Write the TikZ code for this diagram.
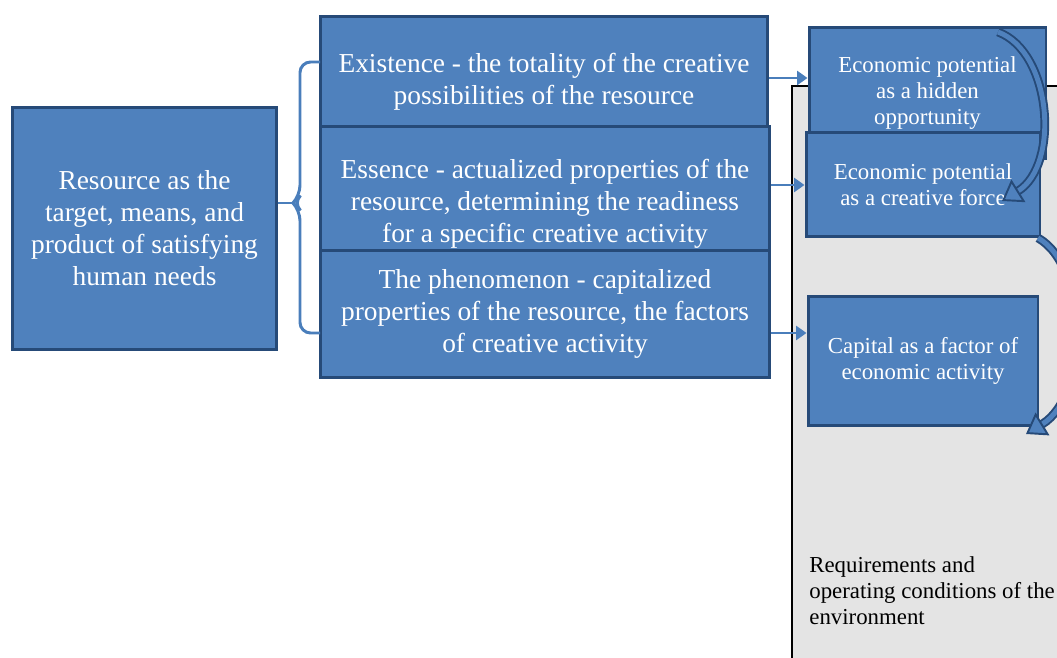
\documentclass[tikz,border=0pt]{standalone}
\usepackage{fontspec}
\setmainfont{Liberation Serif}
\usetikzlibrary{arrows.meta}

\definecolor{boxblue}{HTML}{4F81BD}
\definecolor{boxedge}{HTML}{264A78}
\definecolor{linkblue}{HTML}{4A7EBB}
\definecolor{envgray}{HTML}{E4E4E4}

\tikzset{
  blk/.style={draw=boxedge, fill=boxblue, line width=1.7pt, text=white, align=center, inner sep=0pt},
  bigtxt/.style={font=\fontsize{15.6}{18.2}\selectfont},
  smalltxt/.style={font=\fontsize{13}{14.8}\selectfont},
  link/.style={draw=linkblue, line width=1.7pt, -{Triangle[length=6pt,width=8pt]}},
  turn/.style={draw=boxedge, double=boxblue, line width=1.1pt, double distance=2.8pt,
    -{Triangle[length=11pt,width=15pt,fill=boxblue]}}
}

\begin{document}
\begin{tikzpicture}[x=0.02cm, y=-0.02cm]
\useasboundingbox (0,0) rectangle (1057,658);

% environment
\draw[fill=envgray, line width=1.2pt] (792,86) rectangle (1070,670);
\node[smalltxt, anchor=west, align=left, inner sep=0pt] (env) at (809,591)
  {Requirements and\\operating conditions of the\\environment};

% resource
\node[blk, bigtxt, minimum width=5.3cm, minimum height=4.86cm] (res) at (144.5,228.5)
  {Resource as the\\target, means, and\\product of satisfying\\human needs};

% existence, essence, phenomenon (lower parts tucked under the next box)
\node[blk, bigtxt, minimum width=8.96cm, minimum height=2.64cm] (exist) at (544,82)
  {Existence - the totality of the creative\\possibilities of the resource};
\node[blk, bigtxt, minimum width=9cm, minimum height=3.12cm] (ess) at (545,204)
  {Essence - actualized properties of the\\resource, determining the readiness\\for a specific creative activity};
\node[blk, bigtxt, minimum width=9cm, minimum height=2.56cm] (phen) at (545,314)
  {The phenomenon - capitalized\\properties of the resource, the factors\\of creative activity};

% brace
\draw[linkblue, line width=1.7pt, rounded corners=6pt] (320,62) -- (300,62) -- (300,196) -- (293,203) -- (300,210) -- (300,333) -- (320,333);
\draw[linkblue, line width=1.7pt] (res.east |- 0,203) -- (294,203);

% potentials and capital
\node[blk, smalltxt, minimum width=4.74cm, minimum height=2.64cm] (hidden) at (927.5,93)
  {Economic potential\\as a hidden\\opportunity};
\node[blk, smalltxt, minimum width=4.68cm, minimum height=2.1cm] (force) at (923,184.5)
  {Economic potential\\as a creative force};
\node[blk, smalltxt, minimum width=4.6cm, minimum height=2.58cm] (cap) at (923,361)
  {Capital as a factor of\\economic activity};

% links
\draw[link] (exist.east |- 0,78) -- (hidden.west |- 0,78);
\draw[link] (ess.east |- 0,185) -- (force.west |- 0,185);
\draw[link] (phen.east |- 0,333) -- (cap.west |- 0,333);

% turning arrows
\draw[turn] (998,32) .. controls (1052,52) and (1060,165) .. (1002,201);
\draw[turn] (1038,238) .. controls (1088,266) and (1090,395) .. (1026,434);
\end{tikzpicture}
\end{document}
